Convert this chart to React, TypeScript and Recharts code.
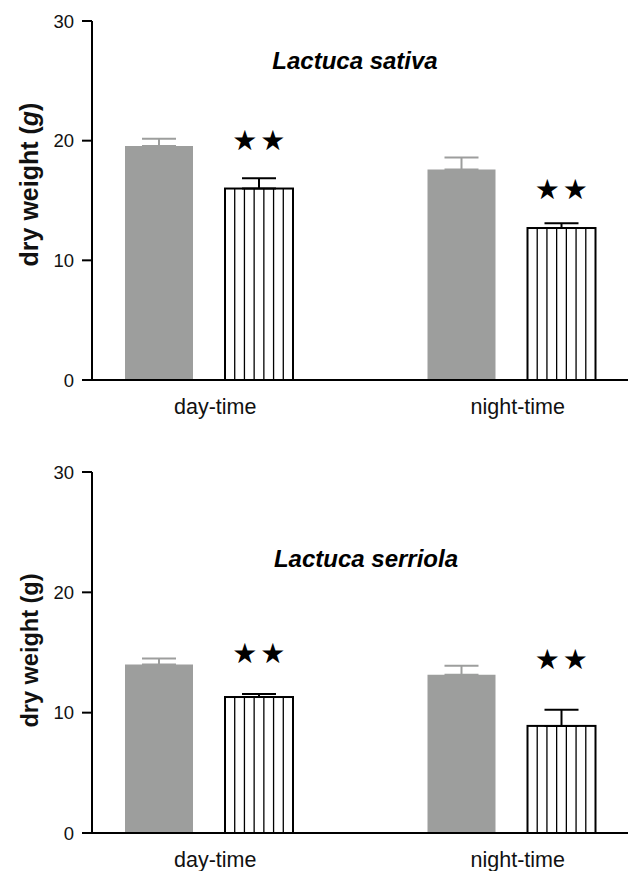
import React from 'react';
import { ComposedChart, Bar, ErrorBar, XAxis, YAxis, Scatter } from 'recharts';

const categories = ['day-time', 'night-time'];
const yTicks = [0, 10, 20, 30];

// Lactuca sativa
const sativaControl = [19.55, 17.6];
const sativaControlErr = [0.6, 1.0];
const sativaTreated = [16.0, 12.7];
const sativaTreatedErr = [0.85, 0.4];
const sativaStars = [20.05, 15.95];

// Lactuca serriola
const serriolaControl = [14.0, 13.15];
const serriolaControlErr = [0.5, 0.75];
const serriolaTreated = [11.3, 8.9];
const serriolaTreatedErr = [0.25, 1.35];
const serriolaStars = [14.95, 14.4];

const GRAY = '#9d9e9d';
const FONT = '"Liberation Sans", Arial, sans-serif';

function buildRows(control: number[], controlErr: number[], treated: number[], treatedErr: number[], stars: number[]) {
    return categories.map((name, i) => ({
        name,
        control: control[i],
        controlErr: [0, controlErr[i]],
        treated: treated[i],
        treatedErr: [0, treatedErr[i]],
        stars: stars[i],
    }));
}

const HatchedBar = (props: any) => {
    const { x, y, width, height } = props;
    const n = 7;
    const lines = [];
    for (let i = 1; i < n; i++) {
        const lx = x + (width * i) / n;
        lines.push(<line key={i} x1={lx} x2={lx} y1={y} y2={y + height} stroke="#000" strokeWidth={1.3} />);
    }
    return (
        <g>
            <rect x={x} y={y} width={width} height={height} fill="#fff" stroke="#000" strokeWidth={2} />
            {lines}
        </g>
    );
};

// stars sit over the hatched bar, which is 50px right of the band centre
const Stars = (props: any) => {
    const { cx, cy } = props;
    return (
        <text x={cx + 51} y={cy} textAnchor="middle" dominantBaseline="central" fontSize={28} letterSpacing={3} fontFamily="DejaVu Sans" fill="#000">
            ★★
        </text>
    );
};

const YLabel = ({ viewBox, italicG, shift, size }: any) => {
    const x = 30;
    const cy = viewBox.y + viewBox.height / 2 + shift;
    return (
        <text x={x} y={cy} transform={`rotate(-90, ${x}, ${cy})`} textAnchor="middle" fontSize={size} fontWeight="bold" fontFamily={FONT} fill="#111">
            dry weight (<tspan fontStyle={italicG ? 'italic' : 'normal'}>g</tspan>)
        </text>
    );
};

interface PanelProps {
    title: string;
    rows: any[];
    height: number;
    marginTop: number;
    marginBottom: number;
    italicG: boolean;
    labelShift: number;
    labelSize: number;
    titleX: number;
    titleY: number;
}

function Panel({ title, rows, height, marginTop, marginBottom, italicG, labelShift, labelSize, titleX, titleY }: PanelProps) {
    return (
        <div style={{ position: 'relative', width: 628, height }}>
            <ComposedChart
                width={628}
                height={height}
                data={rows}
                margin={{ top: marginTop, right: 6, bottom: marginBottom, left: 0 }}
                barSize={68}
                barGap={32}
            >
                <XAxis
                    dataKey="name"
                    height={30}
                    padding={{ left: -34, right: -33 }}
                    tickLine={false}
                    axisLine={{ stroke: '#000', strokeWidth: 2 }}
                    tick={{ fontSize: 21.5, fill: '#111', fontFamily: FONT, dx: 6 }}
                    tickMargin={13}
                />
                <YAxis
                    width={84}
                    domain={[0, 30]}
                    ticks={yTicks}
                    interval={0}
                    tickSize={10}
                    tickMargin={8}
                    tickLine={{ stroke: '#000', strokeWidth: 2 }}
                    axisLine={{ stroke: '#000', strokeWidth: 2 }}
                    tick={{ fontSize: 18.5, fill: '#111', fontFamily: FONT }}
                    label={<YLabel italicG={italicG} shift={labelShift} size={labelSize} />}
                />
                <Bar dataKey="control" fill={GRAY} isAnimationActive={false}>
                    <ErrorBar dataKey="controlErr" width={17} stroke={GRAY} strokeWidth={2} direction="y" />
                </Bar>
                <Bar dataKey="treated" shape={<HatchedBar />} isAnimationActive={false}>
                    <ErrorBar dataKey="treatedErr" width={17} stroke="#000" strokeWidth={2} direction="y" />
                </Bar>
                <Scatter dataKey="stars" shape={<Stars />} isAnimationActive={false} />
            </ComposedChart>
            <svg width={628} height={height} style={{ position: 'absolute', left: 0, top: 0, pointerEvents: 'none' }}>
                <text x={titleX} y={titleY} textAnchor="middle" fontSize={24} fontWeight="bold" fontStyle="italic" fontFamily={FONT} fill="#000">
                    {title}
                </text>
            </svg>
        </div>
    );
}

export default function App() {
    const sativaRows = buildRows(sativaControl, sativaControlErr, sativaTreated, sativaTreatedErr, sativaStars);
    const serriolaRows = buildRows(serriolaControl, serriolaControlErr, serriolaTreated, serriolaTreatedErr, serriolaStars);
    return (
        <div style={{ width: 628, background: '#fff' }}>
            <Panel
                title="Lactuca sativa"
                rows={sativaRows}
                height={420}
                marginTop={13}
                marginBottom={18}
                italicG={true}
                labelShift={-16}
                labelSize={25}
                titleX={347}
                titleY={61}
            />
            <Panel
                title="Lactuca serriola"
                rows={serriolaRows}
                height={443}
                marginTop={44}
                marginBottom={8}
                italicG={false}
                labelShift={-2}
                labelSize={23.5}
                titleX={358}
                titleY={139}
            />
        </div>
    );
}
